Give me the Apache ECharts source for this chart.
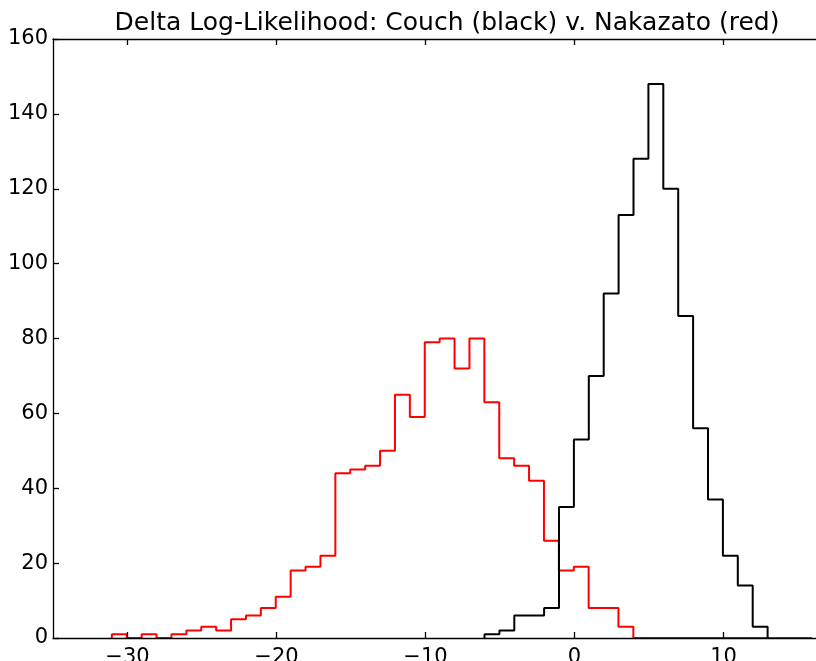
<!DOCTYPE html>
<html>
<head>
<meta charset="utf-8">
<script src="https://cdn.jsdelivr.net/npm/echarts@6/dist/echarts.min.js"></script>
<style>
  html, body { margin: 0; padding: 0; background: #fff; }
  #chart { width: 816px; height: 661px; }
</style>
</head>
<body>
<div id="chart"></div>
<script>
// Histogram counts per unit-width bin (step outlines)
const binWidth = 1.0;

// Couch model (black): bins starting at blackStart
const blackStart = -6.04;
const blackCounts = [1, 2, 6, 6, 8, 35, 53, 70, 92, 113, 128, 148, 120, 86, 56, 37, 22, 14, 3];

// Nakazato model (red): bins starting at redStart
const redStart = -31.05;
const redCounts = [1, 0, 1, 0, 1, 2, 3, 2, 5, 6, 8, 11, 18, 19, 22, 44, 45, 46, 50, 65,
                   59, 79, 80, 72, 80, 63, 48, 46, 42, 26, 18, 19, 8, 8, 3,
                   0, 0, 0, 0, 0, 0, 0, 0, 0, 0, 0, 0];

// Axis ticks
const xTicks = [-30, -20, -10, 0, 10];
const yTicks = [0, 20, 40, 60, 80, 100, 120, 140, 160];

const titleText = 'Delta Log-Likelihood: Couch (black) v. Nakazato (red)';
const FONT = 'DejaVu Sans';

// Build step-outline points: rise at first edge, flat across each bin, drop at last edge
function stepPoints(start, width, counts) {
  const pts = [[start, 0]];
  counts.forEach((c, i) => pts.push([start + i * width, c]));
  pts.push([start + counts.length * width, 0]);
  return pts;
}

const fmt = v => String(v).replace('-', '\u2212');

const chart = echarts.init(document.getElementById('chart'), null, { renderer: 'canvas' });

const axisLineStyle = { color: '#000', width: 1.3 };

chart.setOption({
  animation: false,
  backgroundColor: '#fff',
  title: {
    text: titleText,
    left: 442,
    top: 6,
    textAlign: 'center',
    textStyle: { fontFamily: FONT, fontSize: 25, fontWeight: 'normal', color: '#000' }
  },
  grid: { left: 53, top: 39, bottom: 23, right: -56.5, containLabel: false, outerBoundsMode: 'none' },
  xAxis: [
    {
      type: 'value', position: 'bottom', min: -35, max: 20, z: 10,
      axisLine: { show: true, onZero: false, lineStyle: axisLineStyle },
      axisTick: { show: true, inside: true, length: 6, customValues: xTicks, lineStyle: axisLineStyle },
      axisLabel: { show: true, customValues: xTicks, formatter: fmt, margin: 9,
                   fontFamily: FONT, fontSize: 21, color: '#000' },
      splitLine: { show: false }
    },
    {
      type: 'value', position: 'top', min: -35, max: 20, z: 10,
      axisLine: { show: true, onZero: false, lineStyle: axisLineStyle },
      axisTick: { show: true, inside: true, length: 6, customValues: xTicks, lineStyle: axisLineStyle },
      axisLabel: { show: false },
      splitLine: { show: false }
    }
  ],
  yAxis: [
    {
      type: 'value', position: 'left', min: 0, max: 160, z: 10,
      axisLine: { show: true, onZero: false, lineStyle: axisLineStyle },
      axisTick: { show: true, inside: true, length: 6, customValues: yTicks, lineStyle: axisLineStyle },
      axisLabel: { show: true, customValues: yTicks, margin: 5,
                   fontFamily: FONT, fontSize: 21, color: '#000' },
      splitLine: { show: false }
    }
  ],
  series: [
    {
      name: 'Nakazato', type: 'line', step: 'end',
      data: stepPoints(redStart, binWidth, redCounts),
      symbol: 'none', lineStyle: { color: '#ff0000', width: 2 }, z: 3
    },
    {
      name: 'Couch', type: 'line', step: 'end',
      data: stepPoints(blackStart, binWidth, blackCounts),
      symbol: 'none', lineStyle: { color: '#000000', width: 2 }, z: 4
    }
  ]
});
</script>
</body>
</html>
